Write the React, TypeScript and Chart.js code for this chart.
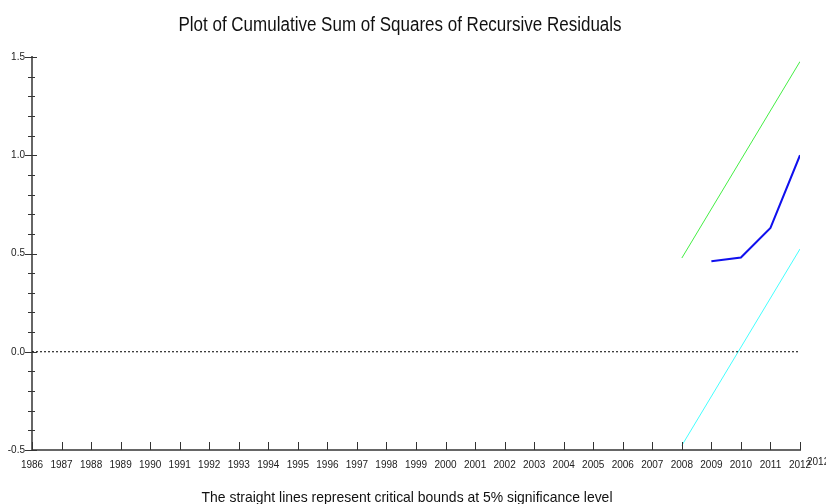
import React, { useEffect, useRef } from "react";
import { Chart, registerables } from "chart.js";

Chart.register(...registerables);

const TITLE = "Plot of Cumulative Sum of Squares of Recursive Residuals";
const FOOTNOTE = "The straight lines represent critical bounds at 5% significance level";
const X_MIN = 1986;
const X_MAX = 2012;
const Y_MIN = -0.5;
const Y_MAX = 1.5;
const Y_LABELS = [-0.5, 0.0, 0.5, 1.0, 1.5];

const cusumYears = [2009, 2010, 2011, 2012];
const cusumValues = [0.46, 0.48, 0.63, 1.0];
const boundYears = [2008, 2012];
const upperBound = [0.477, 1.477];
const lowerBound = [-0.477, 0.523];
const zeroYears = [1986, 2012];
const zeroValues = [0, 0];

const FONT = "'Liberation Sans', Arial, sans-serif";

const toPts = (xs: number[], ys: number[]) => xs.map((x, i) => ({ x, y: ys[i] }));

function drawScaledText(ctx: any, text: string, cx: number, baseline: number, size: number, sx: number) {
  ctx.save();
  ctx.font = `${size}px ${FONT}`;
  ctx.fillStyle = "#111";
  ctx.textAlign = "center";
  ctx.textBaseline = "alphabetic";
  ctx.translate(cx, baseline);
  ctx.scale(sx, 1);
  ctx.fillText(text, 0, 0);
  ctx.restore();
}

const tickPlugin = {
  id: "customTicks",
  afterDraw(chart: any) {
    const ctx = chart.ctx;
    const xs = chart.scales.x;
    const ys = chart.scales.y;
    const area = chart.chartArea;
    ctx.save();
    ctx.strokeStyle = "#333";
    ctx.lineWidth = 1;
    for (let v = X_MIN; v <= X_MAX; v++) {
      const px = Math.round(xs.getPixelForValue(v)) + 0.5;
      ctx.beginPath();
      ctx.moveTo(px, area.bottom);
      ctx.lineTo(px, area.bottom - 8);
      ctx.stroke();
    }
    for (let i = 0; i <= 20; i++) {
      const v = Y_MIN + i * 0.1;
      const py = Math.round(ys.getPixelForValue(v)) + 0.5;
      const major = i % 5 === 0;
      ctx.beginPath();
      ctx.moveTo(area.left - (major ? 7 : 4), py);
      ctx.lineTo(area.left + (major ? 5 : 3), py);
      ctx.stroke();
    }
    ctx.fillStyle = "#222";
    ctx.font = `10px ${FONT}`;
    ctx.textAlign = "left";
    ctx.textBaseline = "middle";
    ctx.fillText(String(X_MAX), area.right + 7, area.bottom + 12);
    ctx.restore();

    const w = chart.width;
    drawScaledText(ctx, TITLE, w / 2 - 13, 31, 20, 0.85);
    drawScaledText(ctx, FOOTNOTE, w / 2 - 6, 502, 15, 0.93);
  },
};

export default function App() {
  const ref = useRef<HTMLCanvasElement>(null);
  useEffect(() => {
    document.body.style.margin = "0";
    const chart = new Chart(ref.current!, {
      type: "line",
      data: {
        datasets: [
          {
            data: toPts(zeroYears, zeroValues),
            borderColor: "#000",
            borderWidth: 1,
            borderDash: [2, 2],
            pointRadius: 0,
          },
          {
            data: toPts(boundYears, upperBound),
            borderColor: "#44ee44",
            borderWidth: 1,
            pointRadius: 0,
          },
          {
            data: toPts(boundYears, lowerBound),
            borderColor: "#44ffff",
            borderWidth: 1,
            pointRadius: 0,
          },
          {
            data: toPts(cusumYears, cusumValues),
            borderColor: "#1010ee",
            borderWidth: 2,
            pointRadius: 0,
          },
        ],
      },
      options: {
        animation: false,
        responsive: false,
        layout: { padding: { left: 0, right: 26, top: 57, bottom: 20 } },
        plugins: {
          legend: { display: false },
          tooltip: { enabled: false },
          title: { display: false },
        },
        scales: {
          x: {
            type: "linear",
            min: X_MIN,
            max: X_MAX,
            afterFit: (s: any) => {
              s.height = 34;
            },
            grid: { display: false, drawTicks: false },
            border: { display: true, color: "#666", width: 2 },
            ticks: {
              stepSize: 1,
              autoSkip: false,
              maxRotation: 0,
              padding: 9,
              color: "#222",
              font: { family: FONT, size: 10 },
              callback: (v: any) => String(v),
            },
          },
          y: {
            min: Y_MIN,
            max: Y_MAX,
            afterFit: (s: any) => {
              s.width = 32;
            },
            grid: { display: false, drawTicks: false },
            border: { display: true, color: "#666", width: 2 },
            ticks: {
              stepSize: 0.5,
              padding: 7,
              color: "#222",
              font: { family: FONT, size: 10 },
              callback: (v: any) => {
                const n = Number(v);
                return Y_LABELS.some((l) => Math.abs(l - n) < 1e-9) ? n.toFixed(1) : "";
              },
            },
          },
        },
      },
      plugins: [tickPlugin],
    });
    return () => chart.destroy();
  }, []);
  return (
    <div style={{ position: "absolute", left: 0, top: 0, width: 826, height: 504, background: "#fff" }}>
      <canvas ref={ref} width={826} height={504} />
    </div>
  );
}
